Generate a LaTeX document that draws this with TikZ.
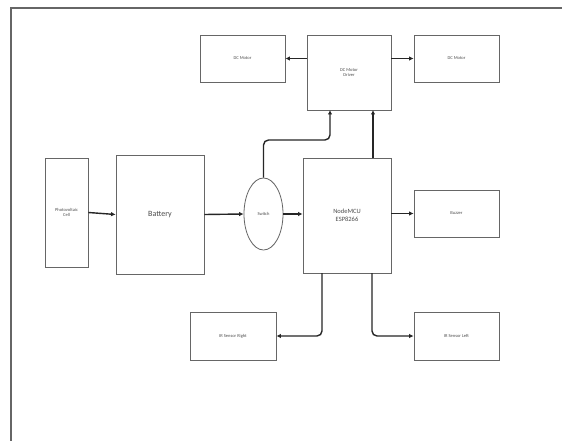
\documentclass[tikz,border=0pt]{standalone}
\usepackage{fontspec}
\setmainfont{Carlito}
\usetikzlibrary{arrows.meta,shapes.geometric}
\begin{document}
\begin{tikzpicture}[x=1pt,y=-1pt,
  blk/.style={draw=black!60,line width=0.8pt,inner sep=0pt,align=center,font=\fontsize{4.5}{5.5}\selectfont,text=black!70},
  conn/.style={line width=1.4pt,black!85,-{Latex[length=4.5pt,width=4.5pt]},rounded corners=5pt}]
\useasboundingbox (0,0) rectangle (562,441);
\fill[white] (0,0) rectangle (562,441);
\draw[black!60,line width=1.6pt] (11,441) -- (11,8) -- (562,8);
% nodes
\node[blk,minimum width=43pt,minimum height=109pt] (solar) at (66.5,212.5) {Photovoltaic\\Cell};
\node[blk,minimum width=88pt,minimum height=119pt,font=\fontsize{8}{9}\selectfont] (bat) at (160,214.5) {Battery};
\node[blk,ellipse,minimum width=39pt,minimum height=72pt] (sw) at (263.5,214) {Switch};
\node[blk,minimum width=88pt,minimum height=115pt,font=\fontsize{6.5}{8}\selectfont] (mcu) at (347,215.5) {NodeMCU\\ESP8266};
\node[blk,minimum width=84pt,minimum height=75pt] (drv) at (349,72.5) {DC Motor\\Driver};
\node[blk,minimum width=85pt,minimum height=47pt] (ml) at (242.5,58.5) {DC Motor};
\node[blk,minimum width=85pt,minimum height=47pt] (mr) at (456.5,58.5) {DC Motor};
\node[blk,minimum width=85pt,minimum height=47pt] (buz) at (456.5,213.5) {Buzzer};
\node[blk,minimum width=86pt,minimum height=48pt] (irr) at (233,336) {IR Sensor Right};
\node[blk,minimum width=85pt,minimum height=48pt] (irl) at (456.5,336) {IR Sensor Left};
% connectors
\draw[conn] (solar.east) -- (bat.west);
\draw[conn] (bat.east) -- (sw.west);
\draw[conn] (sw.east) -- (sw.east -| mcu.west);
\draw[conn] (sw.north) |- (330,140) -- (330,110);
\draw[conn] (373,158) -- (373,110);
\draw[conn] (drv.west |- ml.east) -- (ml.east);
\draw[conn] (drv.east |- mr.west) -- (mr.west);
\draw[conn] (mcu.east |- buz.west) -- (buz.west);
\draw[conn] (322,273) |- (irr.east);
\draw[conn] (372,273) |- (irl.west);
\end{tikzpicture}
\end{document}
